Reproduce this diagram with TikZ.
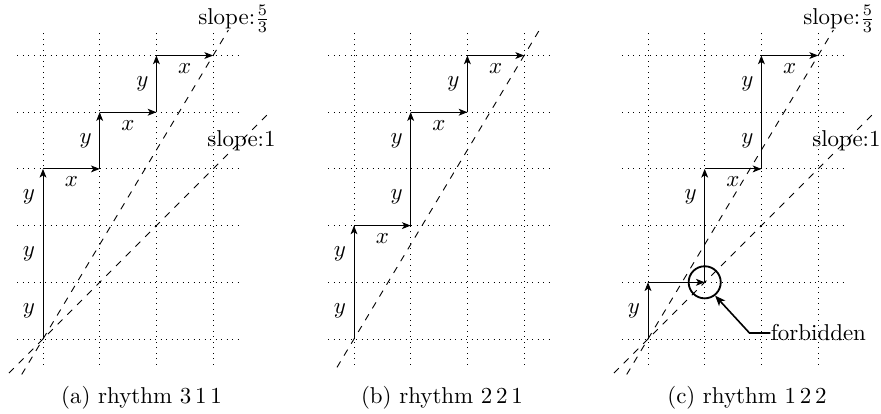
\documentclass[tikz,border=0pt]{standalone}
\usetikzlibrary{arrows.meta}
\begin{document}
\begin{tikzpicture}[x=0.436pt,y=-0.436pt,
  gridline/.style={dotted, line width=0.4pt},
  guide/.style={dashed, line width=0.4pt},
  stepar/.style={-{Stealth[length=3.8pt,width=3pt,inset=1pt]}, line width=0.4pt},
  lab/.style={inner sep=3.3pt}]
\useasboundingbox (0,0) rectangle (881,413);
% ---------------- panel (a)
\begin{scope}[shift={(43,339)},x=24.72pt,y=24.72pt]
  \foreach \i in {0,...,3} \draw[gridline] (\i,-0.45) -- (\i,5.45);
  \foreach \j in {0,...,5} \draw[gridline] (-0.45,\j) -- (3.45,\j);
  \draw[guide] (-0.375,-0.625) -- (3.27,5.45);
  \draw[guide] (-0.6,-0.6) -- (4,4);
  \coordinate (aP0) at (0,0);
  \coordinate (aP1) at (0,3);
  \coordinate (aP2) at (1,3);
  \coordinate (aP3) at (1,4);
  \coordinate (aP4) at (2,4);
  \coordinate (aP5) at (2,5);
  \coordinate (aP6) at (3,5);
  \draw[stepar] (aP0) -- (aP1);
  \draw[stepar] (aP1) -- (aP2);
  \draw[stepar] (aP2) -- (aP3);
  \draw[stepar] (aP3) -- (aP4);
  \draw[stepar] (aP4) -- (aP5);
  \draw[stepar] (aP5) -- (aP6);
  \node[lab,left] (ay1) at (0,0.5) {$y$};
  \node[lab,left] (ay2) at (0,1.5) {$y$};
  \node[lab,left] (ay3) at (0,2.5) {$y$};
  \node[lab,below] (ax1) at (0.5,3) {$x$};
  \node[lab,left] (ay4) at (1,3.5) {$y$};
  \node[lab,below] (ax2) at (1.5,4) {$x$};
  \node[lab,left] (ay5) at (2,4.5) {$y$};
  \node[lab,below] (ax3) at (2.5,5) {$x$};
  \node (asl53) at (3.37,5.64) {slope:$\frac{5}{3}$};
  \node (asl1) at (3.5,3.5) {slope:1};
\end{scope}
\node (capa) at (141.5,398) {(a) rhythm 3\,1\,1};
% ---------------- panel (b)
\begin{scope}[shift={(354,339)},x=24.72pt,y=24.72pt]
  \foreach \i in {0,...,3} \draw[gridline] (\i,-0.45) -- (\i,5.45);
  \foreach \j in {0,...,5} \draw[gridline] (-0.45,\j) -- (3.45,\j);
  \draw[guide] (-0.3,-0.5) -- (3.27,5.45);
  \coordinate (bP0) at (0,0);
  \coordinate (bP1) at (0,2);
  \coordinate (bP2) at (1,2);
  \coordinate (bP3) at (1,4);
  \coordinate (bP4) at (2,4);
  \coordinate (bP5) at (2,5);
  \coordinate (bP6) at (3,5);
  \draw[stepar] (bP0) -- (bP1);
  \draw[stepar] (bP1) -- (bP2);
  \draw[stepar] (bP2) -- (bP3);
  \draw[stepar] (bP3) -- (bP4);
  \draw[stepar] (bP4) -- (bP5);
  \draw[stepar] (bP5) -- (bP6);
  \node[lab,left] (by1) at (0,0.5) {$y$};
  \node[lab,left] (by2) at (0,1.5) {$y$};
  \node[lab,below] (bx1) at (0.5,2) {$x$};
  \node[lab,left] (by3) at (1,2.5) {$y$};
  \node[lab,left] (by4) at (1,3.5) {$y$};
  \node[lab,below] (bx2) at (1.5,4) {$x$};
  \node[lab,left] (by5) at (2,4.5) {$y$};
  \node[lab,below] (bx3) at (2.5,5) {$x$};
\end{scope}
\node (capb) at (442,398) {(b) rhythm 2\,2\,1};
% ---------------- panel (c)
\begin{scope}[shift={(648,339)},x=24.72pt,y=24.72pt]
  \foreach \i in {0,...,3} \draw[gridline] (\i,-0.45) -- (\i,5.45);
  \foreach \j in {0,...,5} \draw[gridline] (-0.45,\j) -- (3.45,\j);
  \draw[guide] (-0.375,-0.625) -- (3.27,5.45);
  \draw[guide] (-0.6,-0.6) -- (4,4);
  \coordinate (cP0) at (0,0);
  \coordinate (cP1) at (0,1);
  \coordinate (cP2) at (1,1);
  \coordinate (cP3) at (1,3);
  \coordinate (cP4) at (2,3);
  \coordinate (cP5) at (2,5);
  \coordinate (cP6) at (3,5);
  \draw[stepar] (cP0) -- (cP1);
  \draw[stepar] (cP1) -- (cP2);
  \draw[stepar] (cP2) -- (cP3);
  \draw[stepar] (cP3) -- (cP4);
  \draw[stepar] (cP4) -- (cP5);
  \draw[stepar] (cP5) -- (cP6);
  \node[lab,left] (cy1) at (0,0.5) {$y$};
  \node[lab,left] (cy2) at (1,2.5) {$y$};
  \node[lab,below] (cx1) at (1.5,3) {$x$};
  \node[lab,left] (cy3) at (2,3.5) {$y$};
  \node[lab,left] (cy4) at (2,4.5) {$y$};
  \node[lab,below] (cx2) at (2.5,5) {$x$};
  \node (csl53) at (3.37,5.64) {slope:$\frac{5}{3}$};
  \node (csl1) at (3.5,3.5) {slope:1};
  \node[circle,draw,line width=0.8pt,inner sep=0pt,minimum size=14pt] (circ) at (cP2) {};
  \node[anchor=west,inner sep=0pt] (forb) at (2.16,0.106) {forbidden};
  \draw[line width=0.7pt,-{Stealth[length=4.5pt,width=3.6pt,inset=1.2pt]}] (forb.west) -- ++(-0.37,0) -- (circ.-52);
\end{scope}
\node (capc) at (747,398) {(c) rhythm 1\,2\,2};
\end{tikzpicture}
\end{document}
